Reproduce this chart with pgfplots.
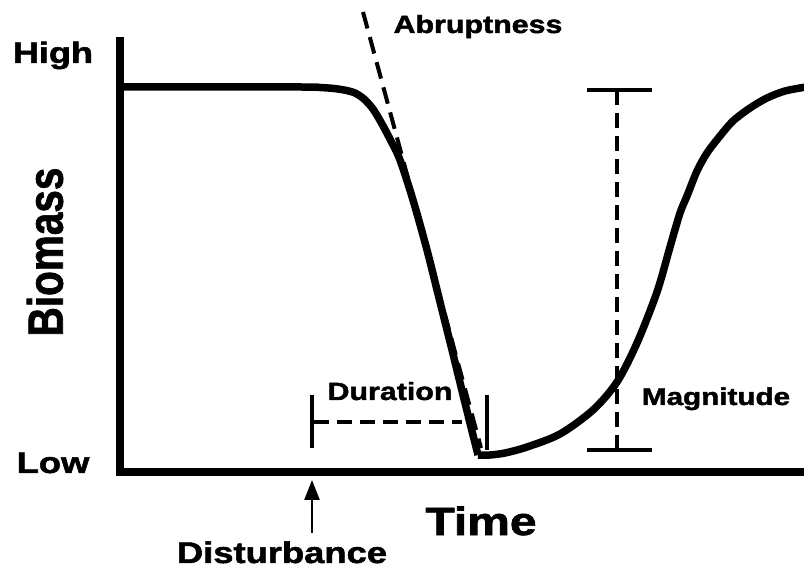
\documentclass[border=0pt]{standalone}
\usepackage{fontspec}
\setmainfont{Liberation Sans}
\newfontfamily\hvb[FakeBold=1.6]{Liberation Sans Bold}
\usepackage{pgfplots}
\pgfplotsset{compat=1.18}
\usetikzlibrary{arrows.meta}
\newcommand\lab[2]{\scalebox{1.22}[1]{\fontsize{#1pt}{#1pt}\hvb #2}}

\begin{document}
\begin{tikzpicture}
\useasboundingbox (0pt,0pt) rectangle (804pt,568pt);
\begin{axis}[
  at={(120pt,96pt)}, anchor=south west, scale only axis,
  width=686pt, height=431pt,
  xmin=120, xmax=806, ymin=96, ymax=527,
  axis x line=bottom, axis y line=left,
  axis line style={line width=8pt, line cap=rect, -},
  xtick=\empty, ytick=\empty,
  clip=false,
]
% main curve: decline
\addplot[black, line width=7.5pt, smooth, tension=0.5, line join=round] coordinates {
(120,481) (300,481) (318,480.6) (333,479.6) (345,477.8) (355,475) (364,469) (373,459) (382,444) (391,427) (400,408) (413,368) (427,318) (440,266) (453,214) (466,161) (478,113)
};
% main curve: recovery
\addplot[black, line width=7.5pt, smooth, tension=0.5, line join=round] coordinates {
(478,113) (490,113) (505,115) (527,121) (560,134) (593,158) (617,186) (637,225) (657,276) (670,321) (680,355) (687,372) (697,397) (707,415) (720,432) (733,447) (750,460) (767,470) (785,477) (806,481)
};
% abruptness tangent
\addplot[black, line width=4pt, dash pattern=on 17pt off 9pt] coordinates {(363,556) (481,120)};
% duration
\addplot[black, line width=4pt] coordinates {(312,120) (312,173)};
\addplot[black, line width=4pt] coordinates {(487,118) (487,173)};
\addplot[black, line width=4pt, dash pattern=on 15pt off 8pt] coordinates {(314,146) (462,146)};
% magnitude
\addplot[black, line width=4pt, dash pattern=on 15pt off 8pt] coordinates {(617,118) (617,478)};
\addplot[black, line width=4pt] coordinates {(587,478) (652,478)};
\addplot[black, line width=4pt] coordinates {(587,118) (652,118)};
% disturbance arrow
\addplot[black, line width=2.5pt, -{Triangle[width=15pt,length=20pt]}] coordinates {(312,35) (312,88)};

% labels
\node[anchor=base] at (axis cs:53,505) {\lab{29.5}{High}};
\node[anchor=base] at (axis cs:53,95) {\lab{29.8}{Low}};
\node at (axis cs:45,316) {\scalebox{1.22}[1]{\rotatebox{90}{\fontsize{40.5pt}{40.5pt}\hvb Biomass}}};
\node[anchor=base] at (axis cs:478,535) {\lab{24.9}{Abruptness}};
\node[anchor=base] at (axis cs:390,168) {\lab{24.9}{Duration}};
\node[anchor=base] at (axis cs:716,163) {\lab{24.3}{Magnitude}};
\node[anchor=base] at (axis cs:481,33) {\lab{39.3}{Time}};
\node[anchor=base] at (axis cs:282,5) {\lab{29.8}{Disturbance}};
\end{axis}
\end{tikzpicture}
\end{document}
